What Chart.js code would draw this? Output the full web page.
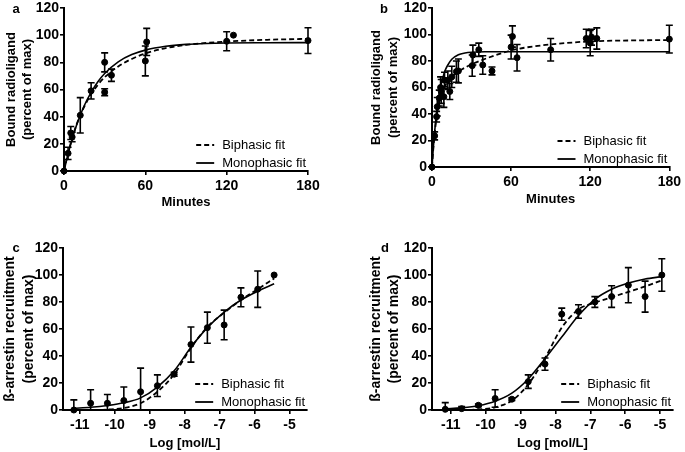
<!DOCTYPE html>
<html>
<head>
<meta charset="utf-8">
<script src="https://cdn.jsdelivr.net/npm/chart.js@4"></script>
<style>
  html, body { margin: 0; padding: 0; background: #fff; }
  #wrap { position: relative; width: 685px; height: 452px; }
  canvas { position: absolute; }
</style>
</head>
<body>
<div id="wrap">
  <canvas id="chartA" width="342" height="226" style="left:0;top:0"></canvas>
  <canvas id="chartB" width="342" height="226" style="left:343px;top:0"></canvas>
  <canvas id="chartC" width="342" height="226" style="left:0;top:226px"></canvas>
  <canvas id="chartD" width="342" height="226" style="left:343px;top:226px"></canvas>
</div>
<script>
// ---- panel a: association, minutes ----
const aMinutes = [0, 3, 5, 6, 12, 20, 30, 30, 35, 60, 61, 120, 125, 180];
const aBound   = [0, 13, 28, 25, 41, 59, 58, 80, 70.5, 81, 95, 95.5, 100, 96];
const aErr     = [0, 4.5, 4.8, 3.5, 13, 6, 2.5, 7, 4.5, 11, 10, 7, 0, 9.5];
const aFitMin  = [0, 3, 6, 9, 12, 15, 20, 25, 30, 40, 50, 60, 75, 90, 105, 120, 150, 180];
const aMono    = [0, 12.6, 23.4, 32.9, 41, 48.2, 57.9, 65.7, 71.8, 80.4, 85.7, 89, 91.8, 93.2, 93.9, 94.2, 94.4, 94.5];
const aBi      = [0, 13, 24, 33.5, 41, 47.5, 56.5, 63.5, 69, 77, 82.5, 86.5, 90.5, 92.8, 94.3, 95.3, 96.6, 97.3];

// ---- panel b: association, minutes ----
const bMinutes = [0, 2, 3.5, 4, 5.5, 6.5, 7, 9, 9.5, 12, 13.5, 15, 18.5, 20, 30.5, 31, 35.5, 38.5, 45.5, 60, 61, 64.5, 90, 117, 120, 121, 125, 180];
const bBound   = [0, 23.5, 38, 45.5, 52, 60, 57, 53, 65.5, 65.5, 57, 68, 72, 72.5, 76.5, 84.5, 88.5, 77, 72.5, 90.5, 98.5, 82.5, 88.5, 97, 93.5, 98, 97, 96.5];
const bErr     = [0, 3, 4, 7, 6, 8, 9, 8, 6, 7, 6, 8, 8, 9, 8, 7.5, 5, 7, 3, 9, 8, 10, 8.5, 7, 9.5, 6, 8, 10.5];
const bMonoMin = [0, 1, 2, 3, 4, 6, 8, 10, 12, 15, 20, 25, 30, 40, 60, 120, 180];
const bMono    = [0, 14.5, 26.5, 36.5, 45, 58, 66.5, 73, 77, 81.3, 84.7, 86, 86.6, 87, 87, 87, 87];
const bBiMin   = [0, 1, 2, 3, 4, 6, 8, 10, 12, 15, 20, 25, 30, 40, 50, 60, 70, 90, 120, 150, 180];
const bBi      = [0, 14, 25, 34, 41, 51, 57, 61.5, 64.5, 68, 72, 75, 77.5, 81.5, 85, 88, 90, 92.5, 94.8, 95.5, 95.8];

// ---- panel c: concentration response, log mol/L ----
const cLog     = [-11.17, -10.69, -10.21, -9.74, -9.26, -8.78, -8.30, -7.82, -7.35, -6.87, -6.39, -5.91, -5.44];
const cRecruit = [0, 5, 5, 7, 13.5, 18, 26.5, 48.5, 61, 63, 83.5, 89.5, 100];
const cErr     = [7.5, 10, 6.5, 10, 17.5, 8, 1.5, 13, 11.5, 11, 7, 13.5, 0];
const cMono    = [1.2, 2, 3.3, 5.3, 9, 17, 29, 46.5, 61, 72.5, 81.5, 88, 93.5];
const cBiLog   = [-10.4, -10.21, -9.74, -9.26, -8.78, -8.30, -7.82, -7.35, -6.87, -6.39, -5.91, -5.44];
const cBi      = [0, 0.3, 1.5, 5, 13.5, 26.5, 46, 61.5, 72, 81.5, 89.5, 97.5];

// ---- panel d: concentration response, log mol/L ----
const dLog     = [-11.16, -10.69, -10.21, -9.73, -9.25, -8.78, -8.30, -7.82, -7.34, -6.87, -6.39, -5.91, -5.43, -4.95];
const dRecruit = [0.5, 1, 3.5, 8.5, 8, 21, 34, 71, 73, 80, 84, 92.5, 84, 100];
const dErr     = [5, 1.5, 1, 6.5, 1, 5, 4.5, 4.5, 5, 4, 8, 13, 11.5, 12];
const dMono    = [0.8, 1.6, 3.2, 6.5, 12.5, 23, 38, 54, 70, 82, 89.5, 94, 97, 98.8];
const dBi      = [0, 0, 0.5, 2, 7, 19, 38.5, 61, 74.5, 79.5, 83.5, 87.5, 91.5, 96];

const logTicks = [-11, -10, -9, -8, -7, -6, -5];
const legendLabels = ['Biphasic fit', 'Monophasic fit'];

const FONT = "'Liberation Sans', Arial, Helvetica, sans-serif";
Chart.defaults.font.family = FONT;
Chart.defaults.color = '#000';

const pairs = (xs, ys) => xs.map((x, i) => ({ x: x, y: ys[i] }));

// error bars, drawn through the chart scales
const errorBars = {
  id: 'errorBars',
  afterDatasetsDraw(chart) {
    const { ctx, scales: { x, y } } = chart;
    chart.data.datasets.forEach(ds => {
      if (!ds.errors) return;
      ctx.save();
      ctx.strokeStyle = '#000';
      ctx.lineWidth = 1.6;
      ds.data.forEach((p, i) => {
        const e = ds.errors[i];
        if (!e) return;
        const px = x.getPixelForValue(p.x);
        const top = y.getPixelForValue(p.y + e);
        const bot = y.getPixelForValue(Math.max(p.y - e, 0));
        ctx.beginPath();
        ctx.moveTo(px, top); ctx.lineTo(px, bot);
        ctx.moveTo(px - 3.5, top); ctx.lineTo(px + 3.5, top);
        ctx.moveTo(px - 3.5, bot); ctx.lineTo(px + 3.5, bot);
        ctx.stroke();
      });
      ctx.restore();
    });
  }
};

// legend in the lower right corner + panel letter
const cornerLegend = {
  id: 'cornerLegend',
  afterDraw(chart, args, opts) {
    const { ctx, chartArea } = chart;
    ctx.save();
    ctx.font = '13px ' + FONT;
    ctx.textBaseline = 'middle';
    ctx.fillStyle = '#000';
    const w = ctx.measureText(legendLabels[1]).width;
    const tx = chartArea.right - w - 2;
    const rows = [chartArea.bottom - 26, chartArea.bottom - 8];
    rows.forEach((ry, i) => {
      ctx.beginPath();
      ctx.strokeStyle = '#000';
      ctx.lineWidth = 1.8;
      ctx.setLineDash(i === 0 ? [5, 3] : []);
      ctx.moveTo(tx - 26, ry); ctx.lineTo(tx - 8, ry);
      ctx.stroke();
      ctx.fillText(legendLabels[i], tx, ry + 0.5);
    });
    ctx.setLineDash([]);
    ctx.font = 'bold 13px ' + FONT;
    ctx.textAlign = 'center';
    ctx.fillText(opts.tag, opts.tagX, opts.tagY);
    ctx.restore();
  }
};

function makePanel(id, o) {
  const ctx = document.getElementById(id).getContext('2d');
  return new Chart(ctx, {
    type: 'scatter',
    data: {
      datasets: [
        {
          data: pairs(o.px, o.py),
          errors: o.err,
          showLine: false,
          pointRadius: 3,
          pointBackgroundColor: '#000',
          pointBorderColor: '#000',
          clip: false
        },
        {
          data: pairs(o.biX, o.biY),
          showLine: true,
          pointRadius: 0,
          borderColor: '#000',
          borderWidth: 1.8,
          borderDash: [5, 3],
          cubicInterpolationMode: 'monotone',
          clip: false
        },
        {
          data: pairs(o.monoX, o.monoY),
          showLine: true,
          pointRadius: 0,
          borderColor: '#000',
          borderWidth: 1.6,
          cubicInterpolationMode: 'monotone',
          clip: false
        }
      ]
    },
    options: {
      responsive: false,
      animation: false,
      events: [],
      layout: { padding: o.pad },
      plugins: {
        legend: { display: false },
        tooltip: { enabled: false },
        cornerLegend: { tag: o.tag, tagX: o.tagX, tagY: o.tagY }
      },
      scales: {
        x: {
          type: 'linear',
          min: o.xMin,
          max: o.xMax,
          border: { color: '#000', width: 2 },
          grid: { display: true, drawOnChartArea: false, drawTicks: true, tickLength: 4, color: '#000', lineWidth: 1.6 },
          ticks: { stepSize: o.xStep, padding: 4, maxRotation: 0, autoSkip: false, font: { size: 14, weight: 'bold', lineHeight: 1 } },
          afterBuildTicks: o.logAxis ? (s => { s.ticks = logTicks.map(v => ({ value: v })); }) : undefined,
          afterFit: s => { s.height = o.xHeight; },
          title: { display: true, text: o.xTitle, font: { size: 13, weight: 'bold' }, padding: { top: 0, bottom: o.xTitlePad } }
        },
        y: {
          min: 0,
          max: 120,
          border: { color: '#000', width: 2 },
          grid: { display: true, drawOnChartArea: false, drawTicks: true, tickLength: 4, color: '#000', lineWidth: 1.6 },
          ticks: { stepSize: 20, padding: 1, font: { size: 14, weight: 'bold', lineHeight: 1 } },
          afterFit: s => { s.width = o.yWidth; },
          title: { display: true, text: o.yTitle, font: { size: o.yTitleSize, weight: 'bold', lineHeight: 1.3 }, padding: { top: o.yTitlePad, bottom: 0 } }
        }
      }
    },
    plugins: [errorBars, cornerLegend]
  });
}

document.addEventListener('DOMContentLoaded', () => {
  const boundTitle = ['Bound radioligand', '(percent of max)'];
  const arrTitle = ['\u00df-arrestin recruitment', '(percent of max)'];

  makePanel('chartA', {
    px: aMinutes, py: aBound, err: aErr,
    monoX: aFitMin, monoY: aMono, biX: aFitMin, biY: aBi,
    xMin: 0, xMax: 180, xStep: 60, xTitle: 'Minutes', yTitle: boundTitle, yTitleSize: 13,
    pad: { left: 0, top: 7, right: 34, bottom: 0 }, yWidth: 64, xHeight: 55, xTitlePad: 16, yTitlePad: 2.5,
    tag: 'a', tagX: 16, tagY: 9
  });
  makePanel('chartB', {
    px: bMinutes, py: bBound, err: bErr,
    monoX: bMonoMin, monoY: bMono, biX: bBiMin, biY: bBi,
    xMin: 0, xMax: 180, xStep: 60, xTitle: 'Minutes', yTitle: boundTitle, yTitleSize: 13,
    pad: { left: 0, top: 7, right: 13, bottom: 0 }, yWidth: 89, xHeight: 59, xTitlePad: 19, yTitlePad: 25,
    tag: 'b', tagX: 41, tagY: 9
  });
  makePanel('chartC', {
    px: cLog, py: cRecruit, err: cErr,
    monoX: cLog, monoY: cMono, biX: cBiLog, biY: cBi,
    xMin: -11.48, xMax: -4.5, xStep: 1, logAxis: true, xTitle: 'Log [mol/L]', yTitle: arrTitle, yTitleSize: 14,
    pad: { left: 0, top: 22, right: 35, bottom: 0 }, yWidth: 63, xHeight: 42, xTitlePad: 1, yTitlePad: 1.5,
    tag: 'c', tagX: 16, tagY: 22
  });
  makePanel('chartD', {
    px: dLog, py: dRecruit, err: dErr,
    monoX: dLog, monoY: dMono, biX: dLog, biY: dBi,
    xMin: -11.54, xMax: -4.63, xStep: 1, logAxis: true, xTitle: 'Log [mol/L]', yTitle: arrTitle, yTitleSize: 14,
    pad: { left: 0, top: 22, right: 12, bottom: 0 }, yWidth: 89, xHeight: 42, xTitlePad: 1, yTitlePad: 24,
    tag: 'd', tagX: 42, tagY: 22
  });
});
</script>
</body>
</html>
